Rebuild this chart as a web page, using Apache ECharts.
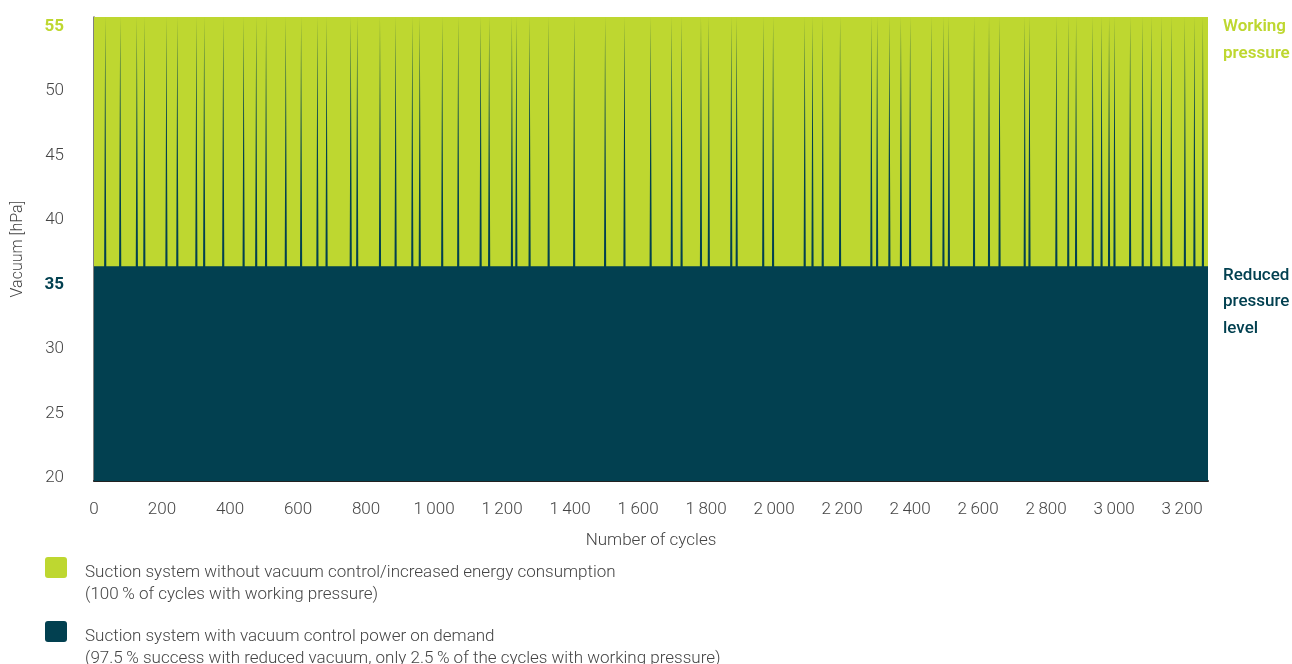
<!DOCTYPE html>
<html>
<head>
<meta charset="utf-8">
<script src="https://cdn.jsdelivr.net/npm/echarts@6/dist/echarts.min.js"></script>
<style>
  html, body { margin: 0; padding: 0; background: #fff; }
  #chart { width: 1292px; height: 664px; }
</style>
</head>
<body>
<div id="chart"></div>
<script>
// data
const cycleMax = 3276;
const xTicks = [0, 200, 400, 600, 800, 1000, 1200, 1400, 1600, 1800, 2000, 2200, 2400, 2600, 2800, 3000, 3200];
const yTicks = [20, 25, 30, 35, 40, 45, 50, 55];
const workingPressure = 55.6;
const reducedLevel = 36.26;
// cycles where the controlled system still needed working pressure
const spikeCycles = [
    33, 77, 126, 148, 213, 245, 301, 324, 380, 440,
    477, 506, 564, 609, 657, 684, 755, 774, 841, 887,
    936, 958, 1024, 1071, 1137, 1162, 1229, 1242, 1281, 1337,
    1412, 1503, 1560, 1637, 1699, 1728, 1785, 1808, 1874, 1890,
    1968, 1997, 2090, 2113, 2143, 2194, 2286, 2303, 2339, 2373,
    2400, 2462, 2498, 2514, 2588, 2632, 2663, 2737, 2751, 2830,
    2865, 2888, 2937, 2963, 2985, 3001, 3047, 3084, 3109, 3139,
    3168, 3208, 3236, 3261
];

const GREEN = '#BED730';
const DARK = '#024050';
const FONT = 'Roboto';

const spikeHalf = 3.2;
let controlled = [[0, reducedLevel]];
spikeCycles.forEach(function (c) {
    controlled.push([c - spikeHalf, reducedLevel]);
    controlled.push([c, workingPressure]);
    controlled.push([c + spikeHalf, reducedLevel]);
});
controlled.push([cycleMax, reducedLevel]);

const uncontrolled = [[0, workingPressure], [cycleMax, workingPressure]];

const myChart = echarts.init(document.getElementById('chart'));
myChart.setOption({
    animation: false,
    textStyle: { fontFamily: FONT },
    grid: { left: 94, right: 84, top: 17, bottom: 183 },
    xAxis: {
        type: 'value',
        min: 0,
        max: cycleMax,
        name: 'Number of cycles',
        nameLocation: 'middle',
        nameGap: 51,
        nameTextStyle: { color: '#444', fontSize: 17, fontFamily: FONT, fontWeight: 300 },
        axisLine: { show: true, onZero: false, lineStyle: { color: '#222', width: 2 } },
        axisTick: { show: false },
        splitLine: { show: false },
        axisLabel: {
            customValues: xTicks,
            color: '#444',
            fontSize: 17,
            fontWeight: 300,
            margin: 20,
            formatter: function (v) {
                return v >= 1000 ? Math.floor(v / 1000) + '\u2009' + String(v % 1000).padStart(3, '0') : String(v);
            }
        }
    },
    yAxis: {
        type: 'value',
        min: 19.6,
        max: workingPressure,
        name: 'Vacuum [hPa]',
        nameLocation: 'middle',
        nameGap: 68,
        nameTextStyle: { color: '#444', fontSize: 16, fontFamily: FONT, fontWeight: 300 },
        axisLine: { show: true, lineStyle: { color: '#555', width: 1.5 } },
        axisTick: { show: false },
        splitLine: { show: false },
        axisLabel: {
            customValues: yTicks,
            margin: 30,
            fontSize: 17,
            formatter: function (v) {
                if (v === 55) return '{g|' + v + '}';
                if (v === 35) return '{d|' + v + '}';
                return '{n|' + v + '}';
            },
            rich: {
                n: { color: '#444', fontSize: 17, fontWeight: 300, fontFamily: FONT, padding: [4, 0, 0, 0] },
                g: { color: GREEN, fontSize: 17, fontWeight: 'bold', fontFamily: FONT, padding: [4, 0, 0, 0] },
                d: { color: DARK, fontSize: 17, fontWeight: 'bold', fontFamily: FONT, padding: [4, 0, 0, 0] }
            }
        }
    },
    series: [
        {
            name: 'Suction system without vacuum control',
            type: 'line',
            data: uncontrolled,
            symbol: 'none',
            lineStyle: { width: 0 },
            areaStyle: { color: GREEN, opacity: 1, origin: 'start' },
            z: 1
        },
        {
            name: 'Suction system with vacuum control',
            type: 'line',
            data: controlled,
            symbol: 'none',
            lineStyle: { width: 0 },
            areaStyle: { color: DARK, opacity: 1, origin: 'start' },
            z: 2
        }
    ],
    graphic: [
        { type: 'text', left: 1223, top: 13, style: { text: 'Working\npressure', fill: GREEN, font: '600 17px ' + FONT, lineHeight: 27 } },
        { type: 'text', left: 1223, top: 262, style: { text: 'Reduced\npressure\nlevel', fill: DARK, font: '500 17px ' + FONT, lineHeight: 26.5 } },
        { type: 'rect', shape: { x: 45, y: 557, width: 22, height: 21, r: 3 }, style: { fill: GREEN } },
        { type: 'text', left: 85, top: 562, style: { text: 'Suction system without vacuum control/increased energy consumption\n(100\u2009% of cycles with working pressure)', fill: '#444', font: '300 17px ' + FONT, lineHeight: 22 } },
        { type: 'rect', shape: { x: 45, y: 621, width: 22, height: 21, r: 3 }, style: { fill: DARK } },
        { type: 'text', left: 85, top: 626, style: { text: 'Suction system with vacuum control power on demand\n(97.5\u2009% success with reduced vacuum, only 2.5\u2009% of the cycles with working pressure)', fill: '#444', font: '300 17px ' + FONT, lineHeight: 22 } }
    ]
});
</script>
</body>
</html>
